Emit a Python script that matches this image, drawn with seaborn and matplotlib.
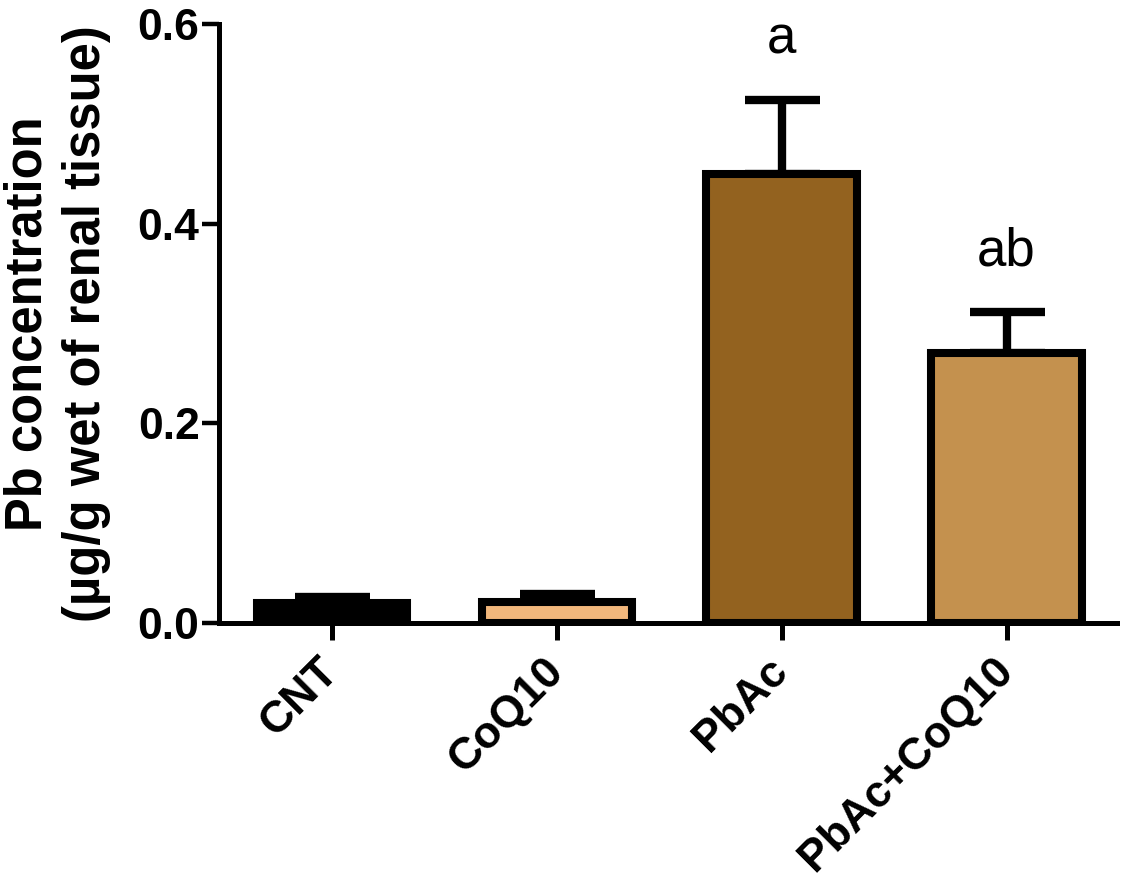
import numpy as np
import seaborn as sns
import matplotlib
import matplotlib.pyplot as plt

matplotlib.use('Agg')

# data
groups = ['CNT', 'CoQ10', 'PbAc', 'PbAc+CoQ10']
means = [0.020, 0.021, 0.450, 0.270]
sem = [0.006, 0.008, 0.074, 0.042]
letters = ['', '', 'a', 'ab']
bar_colors = ['#000000', '#F2B77C', '#93621F', '#C4914E']

sns.set_style('ticks')
plt.rcParams['font.family'] = ['Liberation Sans', 'DejaVu Sans']
for key in ['text.color', 'axes.labelcolor', 'xtick.color', 'ytick.color', 'axes.edgecolor']:
    plt.rcParams[key] = 'black'

fig = plt.figure(figsize=(11.25, 8.85), dpi=100)
ax = fig.add_axes([0.1947, 0.2960, 0.798, 0.6769])

sns.barplot(x=groups, y=means, hue=groups, palette=bar_colors, width=0.67,
            saturation=1, edgecolor='black', linewidth=5.8, errorbar=None,
            legend=False, ax=ax, zorder=2)

# upper error bars only
ax.errorbar(np.arange(len(groups)), means, yerr=[np.zeros(len(sem)), sem],
            fmt='none', ecolor='black', elinewidth=6, capsize=27, capthick=6, zorder=1)

# significance letters
for i, (m, e, lab) in enumerate(zip(means, sem, letters)):
    if lab:
        ax.text(i, m + e + 0.046, lab, ha='center', va='baseline', fontsize=38, color='black')

ax.set_xlim(-0.503, 3.49)
ax.set_ylim(0, 0.6)
ax.set_yticks([0.0, 0.2, 0.4, 0.6])
ax.set_yticklabels(['0.0', '0.2', '0.4', '0.6'], fontsize=32, fontweight='bold')
ax.set_xticks(range(len(groups)))
ax.set_xticklabels(groups, fontsize=32, fontweight='bold', rotation=45,
                   ha='right', va='center', rotation_mode='anchor')
ax.set_xlabel('')
ax.set_ylabel('Pb concentration\n(µg/g wet of renal tissue)', fontsize=36.5, fontweight='bold',
              linespacing=1.27)
ax.yaxis.set_label_coords(-0.12, 0.5)

sns.despine(ax=ax)
for side in ['left', 'bottom']:
    ax.spines[side].set_linewidth(3.6)
ax.tick_params(axis='y', length=12, width=3.2, pad=2)
ax.tick_params(axis='x', length=12, width=3.6, pad=18)

fig.savefig('out.png', dpi=100, facecolor='white')
